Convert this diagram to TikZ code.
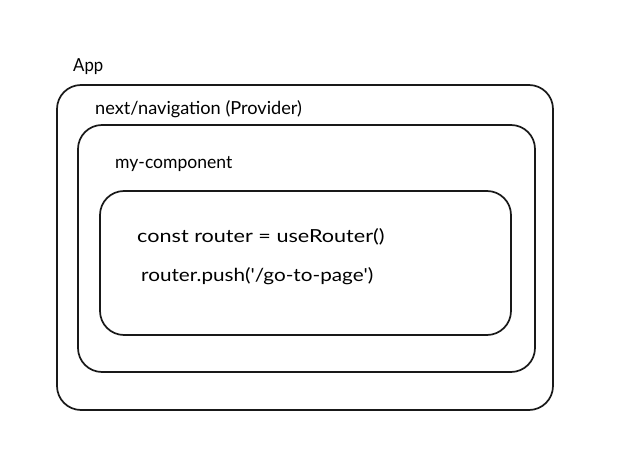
\documentclass[tikz,border=0pt]{standalone}
\usepackage{fontspec}
\setmainfont{Lato}
\begin{document}
\begin{tikzpicture}[x=1pt,y=-1pt,
  frame/.style={draw=black!90,line width=1.7pt,rounded corners=24pt,inner sep=0pt},
  lbl/.style={anchor=west,inner sep=0pt,font=\fontsize{18}{21}\selectfont}]
\useasboundingbox (0,0) rectangle (622,465);
\node[frame,minimum width=496pt,minimum height=325pt] (app) at (305,247.5) {};
\node[frame,minimum width=457pt,minimum height=247pt] (prov) at (306.5,248.5) {};
\node[frame,minimum width=411pt,minimum height=144pt] (comp) at (305.5,263) {};
\node[lbl] (tapp) at (73,67) {\scalebox{0.93}[1]{App}};
\node[lbl] (tprov) at (95,109) {\scalebox{1.01}[1]{next/navigation (Provider)}};
\node[lbl] (tcomp) at (115,164) {\scalebox{0.975}[1]{my-component}};
\node[lbl] (tconst) at (137,237) {\scalebox{1.2}[1]{const router = useRouter()}};
\node[lbl] (tpush) at (141,276) {\scalebox{1.15}[1]{router.push(\textquotesingle/go-to-page\textquotesingle)}};
\end{tikzpicture}
\end{document}
